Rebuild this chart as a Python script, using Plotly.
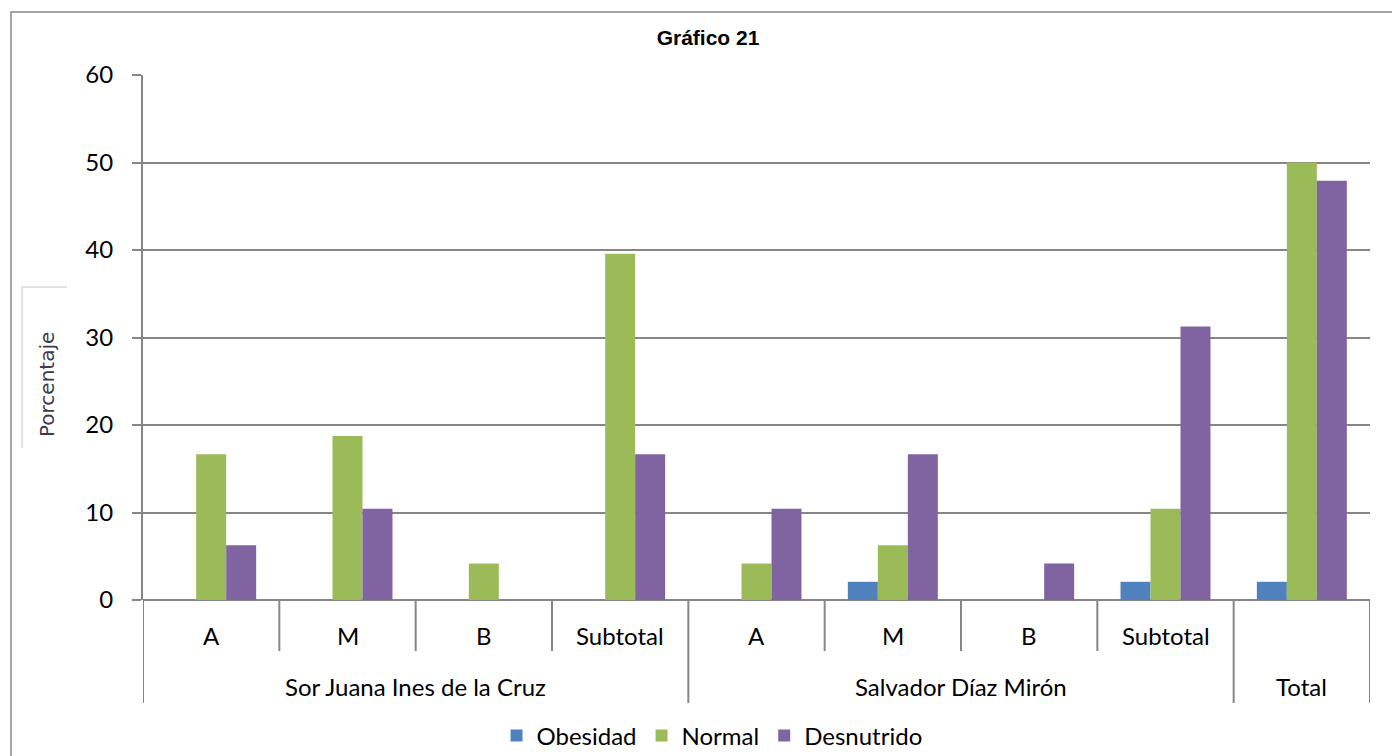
import plotly.graph_objects as go

# Categories: school (outer) and level (inner)
outer = ["Sor Juana Ines de la Cruz"] * 4 + ["Salvador Díaz Mirón"] * 4 + ["Total"]
inner = ["A", "M", "B", "Subtotal", "A", "M", "B", "Subtotal", ""]

# Percentages per nutritional status
obesidad = [0, 0, 0, 0, 0, 2.08, 0, 2.08, 2.08]
normal = [16.67, 18.75, 4.17, 39.58, 4.17, 6.25, 0, 10.42, 50.0]
desnutrido = [6.25, 10.42, 0, 16.67, 10.42, 16.67, 4.17, 31.25, 47.92]

series = [
    ("Obesidad", obesidad, "#4F81BD"),
    ("Normal", normal, "#9BBB59"),
    ("Desnutrido", desnutrido, "#8064A2"),
]

y_ticks = [0, 10, 20, 30, 40, 50, 60]

W, H = 1392, 756
L, R, T, B = 143, 22, 75, 156
plot_h = H - T - B
plot_w = W - L - R

def py(px):
    """pixel row -> paper y"""
    return (H - B - px) / plot_h

def pxp(px):
    """pixel column -> paper x"""
    return (px - L) / plot_w

GRID = "#868686"
FONT = "Lato"
FS = 24

pos = list(range(len(inner)))

fig = go.Figure()
for name, vals, col in series:
    fig.add_trace(go.Bar(x=pos, y=vals, name=name, marker=dict(color=col, line=dict(width=0))))

shapes = []
annotations = []

# inner labels and short dividers between categories
for i, lab in enumerate(inner):
    annotations.append(dict(x=i, y=py(635), xref="x", yref="paper", text=lab,
                            showarrow=False, yanchor="middle",
                            font=dict(family=FONT, size=FS, color="black")))

# outer groups
groups = []
start = 0
for i in range(1, len(outer) + 1):
    if i == len(outer) or outer[i] != outer[start]:
        groups.append((outer[start], start, i - 1))
        start = i

group_edges = set()
for name, a, b in groups:
    annotations.append(dict(x=(a + b) / 2, y=py(686), xref="x", yref="paper", text=name,
                            showarrow=False, yanchor="middle",
                            font=dict(family=FONT, size=FS, color="black")))
    group_edges.add(a - 0.5)
    group_edges.add(b + 0.5)

for i in range(len(inner) + 1):
    edge = i - 0.5
    y1 = py(703) if edge in group_edges else py(651)
    shapes.append(dict(type="line", xref="x", yref="paper", x0=edge, x1=edge, y0=0, y1=y1,
                       line=dict(color=GRID, width=2)))

# outer chart frame
shapes.append(dict(type="rect", xref="paper", yref="paper",
                   x0=pxp(11), x1=pxp(1420), y0=py(12), y1=py(790),
                   line=dict(color=GRID, width=1.5), layer="below"))

# box around the axis title
shapes.append(dict(type="path", xref="paper", yref="paper",
                   path=f"M {pxp(67)} {py(287)} L {pxp(22)} {py(287)} L {pxp(22)} {py(448)}",
                   line=dict(color="#D9D9D9", width=1.5)))

annotations.append(dict(x=pxp(47), y=py(385), xref="paper", yref="paper", text="Porcentaje",
                        textangle=-90, showarrow=False, xanchor="center", yanchor="middle",
                        font=dict(family="DejaVu Sans", size=20, color="#3C3C4A")))

fig.update_layout(
    width=W, height=H,
    margin=dict(l=L, r=R, t=T, b=B, autoexpand=False),
    paper_bgcolor="white", plot_bgcolor="white",
    barmode="group", bargap=0.34, bargroupgap=0,
    title=dict(text="<b>Gráfico 21</b>", xref="container", yref="container",
               x=708 / W, y=1 - 38 / H, xanchor="center", yanchor="middle",
               font=dict(family="Liberation Sans", size=21, color="black")),
    showlegend=True,
    legend=dict(orientation="h", x=pxp(712), y=py(736), xref="paper", yref="paper",
                xanchor="center", yanchor="middle",
                font=dict(family=FONT, size=FS, color="black"),
                itemwidth=30, tracegroupgap=0),
    shapes=shapes,
    annotations=annotations,
)

fig.update_xaxes(range=[-0.5, len(inner) - 0.5], showticklabels=False, showgrid=False,
                 zeroline=False, showline=False, ticks="")
fig.update_yaxes(range=[0, 60], tickvals=y_ticks, showgrid=True, gridcolor=GRID, gridwidth=2,
                 zeroline=True, zerolinecolor=GRID, zerolinewidth=2,
                 showline=True, linecolor=GRID, linewidth=2,
                 ticks="outside", ticklen=9, tickcolor=GRID, tickwidth=2,
                 ticklabelstandoff=14,
                 tickfont=dict(family=FONT, size=FS, color="black"))

fig.write_html("out.html")
